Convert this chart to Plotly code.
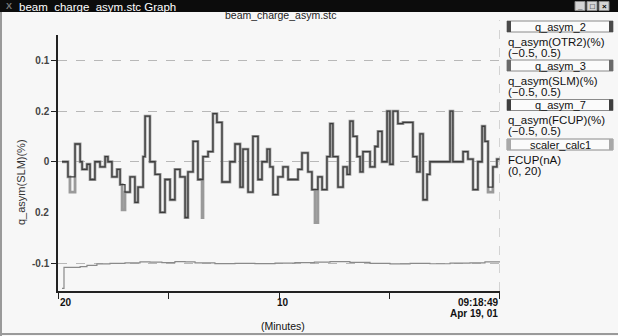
import plotly.graph_objects as go

# ---------------- data (time in minutes relative to 09:18:49) ----------------
t_q = [-19.82, -19.55, -19.46, -19.23, -19.00, -18.91, -18.69, -18.55, -18.33, -18.10,
       -17.87, -17.74, -17.56, -17.33, -17.19, -17.10, -16.97, -16.74, -16.52, -16.38,
       -16.15, -16.06, -15.84, -15.61, -15.38, -15.16, -14.93, -14.71, -14.48, -14.25,
       -14.12, -13.89, -13.67, -13.48, -13.44, -13.21, -12.99, -12.81, -12.58, -12.22,
       -11.99, -11.76, -11.63, -11.40, -11.18, -10.95, -10.77, -10.54, -10.41, -10.27,
       -10.05, -9.82, -9.59, -9.14, -8.96, -8.69, -8.51, -8.37, -8.24, -8.05,
       -7.83, -7.69, -7.56, -7.33, -7.10, -6.92, -6.79, -6.65, -6.47, -6.33,
       -6.20, -5.88, -5.66, -5.52, -5.34, -5.11, -4.98, -4.84, -4.62, -4.39,
       -3.94, -3.76, -3.62, -3.48, -3.30, -3.17, -2.26, -2.13, -1.67, -1.45,
       -1.22, -1.00, -0.81, -0.68, -0.54, -0.32, -0.14, 0.00]

q_asym_2 = [0.00, -0.06, -0.06, 0.07, 0.00, -0.03, -0.01, -0.07, 0.00, -0.02,
            0.02, 0.00, -0.06, -0.03, -0.09, -0.09, -0.12, -0.06, -0.16, -0.10,
            0.02, 0.18, 0.00, -0.05, -0.20, -0.07, -0.15, -0.03, -0.06, -0.22,
            -0.04, 0.08, -0.07, -0.07, 0.02, 0.04, 0.19, 0.155, -0.08, 0.00,
            0.07, -0.10, 0.05, -0.12, 0.10, -0.07, 0.00, 0.05, -0.02, -0.13,
            -0.06, -0.02, -0.07, -0.03, 0.035, -0.04, -0.11, -0.11, -0.06, -0.11,
            0.02, 0.15, 0.02, -0.10, -0.02, -0.05, 0.16, 0.10, 0.02, -0.04,
            0.04, -0.02, 0.06, 0.12, 0.00, 0.20, -0.01, 0.20, 0.15, 0.155,
            0.02, -0.04, 0.11, -0.15, -0.05, 0.00, 0.20, 0.00, 0.04, 0.01,
            -0.11, 0.00, 0.14, 0.08, -0.10, -0.02, 0.01, 0.01]

q_asym_3 = [0.00, -0.06, -0.12, 0.07, 0.00, -0.03, -0.01, -0.07, 0.00, -0.02,
            0.02, 0.00, -0.06, -0.03, -0.09, -0.19, -0.12, -0.06, -0.16, -0.10,
            0.02, 0.18, 0.00, -0.05, -0.20, -0.07, -0.15, -0.03, -0.06, -0.22,
            -0.04, 0.08, -0.07, -0.22, 0.02, 0.04, 0.19, 0.155, -0.08, 0.00,
            0.07, -0.10, 0.05, -0.12, 0.10, -0.07, 0.00, 0.05, -0.02, -0.13,
            -0.06, -0.02, -0.07, -0.03, 0.035, -0.04, -0.11, -0.24, -0.06, -0.11,
            0.02, 0.15, 0.02, -0.10, -0.02, -0.05, 0.16, 0.10, 0.02, -0.04,
            0.04, -0.02, 0.06, 0.12, 0.00, 0.20, -0.01, 0.20, 0.15, 0.155,
            0.02, -0.04, 0.11, -0.15, -0.05, 0.00, 0.20, 0.00, 0.04, 0.01,
            -0.11, 0.00, 0.14, 0.08, -0.12, -0.02, 0.01, 0.01]

t_fcup = [-19.82, -19.73, -19.00, -18.69, -18.24, -17.65, -16.97, -16.29, -15.84, -15.30,
          -14.71, -14.25, -13.80, -12.90, -11.99, -11.09, -10.18, -9.28, -8.40, -7.69,
          -6.79, -5.88, -4.98, -4.07, -3.17, -2.26, -1.36, -0.68, 0.00]
fcup = [0.2, 1.84, 1.90, 2.00, 2.12, 2.16, 2.20, 2.27, 2.25, 2.22,
        2.30, 2.28, 2.20, 2.14, 2.16, 2.14, 2.18, 2.22, 2.26, 2.30,
        2.24, 2.16, 2.12, 2.16, 2.13, 2.18, 2.20, 2.28, 2.28]

y_tick_vals = [0.4, 0.2, 0.0, -0.4]
y_tick_text = ["0.1", "0.2", "0", "-0.1"]
y_extra_label = (-0.2, "0.2")
x_tick_vals = [-20, -15, -10, -5, 0]
x_labels = [(-20, "20"), (-10, "10"), (0, "09:18:49")]
x_date = "Apr 19, 01"

legend_names = ["q_asym_2", "q_asym_3", "q_asym_7", "scaler_calc1"]
legend_desc = ["q_asym(OTR2)(%)", "q_asym(SLM)(%)", "q_asym(FCUP)(%)", "FCUP(nA)"]
legend_range = ["(\u22120.5, 0.5)", "(\u22120.5, 0.5)", "(\u22120.5, 0.5)", "(0, 20)"]
legend_strip = ["#4a4a4a", "#6a6a6a", "#3e3e3e", "#a8a8a8"]

# ---------------- geometry helpers (pixel -> paper) ----------------
W, H = 618, 336
L, R, T, B = 58, 118, 35, 45
PW, PH = W - L - R, H - T - B


def PX(x):
    return (x - L) / PW


def PY(y):
    return (H - B - y) / PH


BG = "#f7f7f7"
FONT = "Liberation Sans"

fig = go.Figure()
fig.add_trace(go.Scatter(x=t_fcup, y=fcup, yaxis="y2", mode="lines", line_shape="hv",
                         line=dict(color="#8a8a8a", width=1.2), showlegend=False))
fig.add_trace(go.Scatter(x=t_q, y=q_asym_3, mode="lines", line_shape="hv",
                         line=dict(color="#9a9a9a", width=2.8), showlegend=False))
fig.add_trace(go.Scatter(x=t_q, y=q_asym_2, mode="lines", line_shape="hv",
                         line=dict(color="#3c3c3c", width=1.3), showlegend=False))

shapes = []
annotations = []

# title bar
shapes.append(dict(type="rect", xref="paper", yref="paper", x0=PX(0), x1=PX(618), y0=PY(0), y1=PY(12),
                   fillcolor="#0c0c0c", line=dict(width=0), layer="below"))
annotations.append(dict(xref="paper", yref="paper", x=PX(4), y=PY(6), text="<b>X</b>", showarrow=False,
                        xanchor="left", yanchor="middle", font=dict(family=FONT, size=9, color="#7a7a7a")))
annotations.append(dict(xref="paper", yref="paper", x=PX(17), y=PY(6.5), text="beam_charge_asym.stc Graph",
                        showarrow=False, xanchor="left", yanchor="middle",
                        font=dict(family=FONT, size=11.5, color="#ffffff")))
for bx, sym in [(575, "_"), (587, "\u25a1"), (599, "\u00d7")]:
    shapes.append(dict(type="rect", xref="paper", yref="paper", x0=PX(bx), x1=PX(bx + 10), y0=PY(1.5), y1=PY(10.5),
                       fillcolor="#d4d4d4", line=dict(color="#888888", width=1)))
    annotations.append(dict(xref="paper", yref="paper", x=PX(bx + 5), y=PY(6), text="<b>%s</b>" % sym,
                            showarrow=False, xanchor="center", yanchor="middle",
                            font=dict(family=FONT, size=8, color="#000000")))

# window frame lines
shapes.append(dict(type="line", xref="paper", yref="paper", x0=PX(1), x1=PX(1), y0=PY(12), y1=PY(336),
                   line=dict(color="#9a9a9a", width=2)))
shapes.append(dict(type="line", xref="paper", yref="paper", x0=PX(0), x1=PX(618), y0=PY(334), y1=PY(334),
                   line=dict(color="#9a9a9a", width=2)))

# vertical dashed line at right edge of plot
shapes.append(dict(type="line", xref="x", yref="paper", x0=0, x1=0, y0=0, y1=PY(20),
                   line=dict(color="#b4b4b4", width=1, dash="dash")))

# chart title
annotations.append(dict(xref="paper", yref="paper", x=PX(280), y=PY(15), text="beam_charge_asym.stc",
                        showarrow=False, xanchor="center", yanchor="middle",
                        font=dict(family=FONT, size=10.5, color="#222222")))

# y axis title
annotations.append(dict(xref="paper", yref="paper", x=PX(21), y=PY(182), text="q_asym(SLM)(%)", textangle=-90,
                        showarrow=False, xanchor="center", yanchor="middle",
                        font=dict(family=FONT, size=11, color="#333333")))
# extra y label without tick
annotations.append(dict(xref="paper", yref="y", x=PX(51), y=y_extra_label[0], text="<b>%s</b>" % y_extra_label[1],
                        showarrow=False, xanchor="right", yanchor="middle",
                        font=dict(family=FONT, size=10, color="#444444")))

# x tick labels
for (xv, lab) in x_labels:
    anchor = "left" if xv == x_tick_vals[0] else ("right" if xv == x_tick_vals[-1] else "center")
    shift = 0 if anchor != "center" else 4
    annotations.append(dict(xref="x", yref="paper", x=xv, y=PY(302), text="<b>%s</b>" % lab, showarrow=False,
                            xanchor=anchor, yanchor="middle", xshift=shift,
                            font=dict(family=FONT, size=10, color="#111111")))
annotations.append(dict(xref="x", yref="paper", x=x_tick_vals[-1], y=PY(313.5), text="<b>%s</b>" % x_date,
                        showarrow=False, xanchor="right", yanchor="middle",
                        font=dict(family=FONT, size=10, color="#111111")))
annotations.append(dict(xref="x", yref="paper", x=-10, y=PY(326), text="(Minutes)", showarrow=False,
                        xanchor="center", yanchor="middle", xshift=4,
                        font=dict(family=FONT, size=10.5, color="#111111")))

# legend panel
box_tops = [21, 60, 99.5, 139]
for i, name in enumerate(legend_names):
    y0 = box_tops[i]
    shapes.append(dict(type="rect", xref="paper", yref="paper", x0=PX(507), x1=PX(613), y0=PY(y0), y1=PY(y0 + 11),
                       fillcolor="#fbfbfb", line=dict(color="#8a8a8a", width=1)))
    shapes.append(dict(type="rect", xref="paper", yref="paper", x0=PX(507), x1=PX(511), y0=PY(y0), y1=PY(y0 + 11),
                       fillcolor=legend_strip[i], line=dict(width=0)))
    shapes.append(dict(type="rect", xref="paper", yref="paper", x0=PX(609), x1=PX(613), y0=PY(y0), y1=PY(y0 + 11),
                       fillcolor=legend_strip[i], line=dict(width=0)))
    annotations.append(dict(xref="paper", yref="paper", x=PX(560), y=PY(y0 + 5.5), text=name, showarrow=False,
                            xanchor="center", yanchor="middle",
                            font=dict(family=FONT, size=11, color="#111111")))
    annotations.append(dict(xref="paper", yref="paper", x=PX(506), y=PY(y0 + 20.5), text=legend_desc[i],
                            showarrow=False, xanchor="left", yanchor="middle",
                            font=dict(family=FONT, size=11.5, color="#111111")))
    annotations.append(dict(xref="paper", yref="paper", x=PX(506), y=PY(y0 + 31.5), text=legend_range[i],
                            showarrow=False, xanchor="left", yanchor="middle",
                            font=dict(family=FONT, size=11.5, color="#111111")))

fig.update_layout(
    width=W, height=H,
    margin=dict(l=L, r=R, t=T, b=B, pad=0),
    paper_bgcolor=BG, plot_bgcolor=BG,
    shapes=shapes, annotations=annotations,
    xaxis=dict(range=[-20.001, 0.001], tickvals=x_tick_vals, ticktext=[""] * len(x_tick_vals),
               showline=True, linecolor="#222222", linewidth=1.5, ticks="outside", ticklen=6,
               tickcolor="#222222", showgrid=False, zeroline=False, fixedrange=True),
    yaxis=dict(range=[-0.51, 0.5], tickvals=y_tick_vals, ticktext=["<b>%s</b>" % s for s in y_tick_text],
               showline=True, linecolor="#222222", linewidth=1.5, ticks="outside", ticklen=5,
               tickcolor="#222222", showgrid=True, gridcolor="#b8b8b8", griddash="dash", gridwidth=1,
               zeroline=False, tickfont=dict(family=FONT, size=10, color="#444444")),
    yaxis2=dict(range=[0, 20], overlaying="y", visible=False),
    font=dict(family=FONT),
)

fig.write_html("out.html")
